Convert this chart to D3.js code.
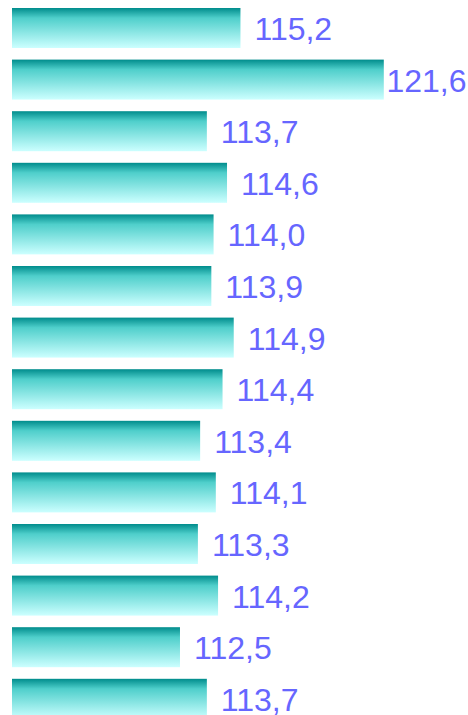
<!DOCTYPE html>
<html>
<head>
<meta charset="utf-8">
<script src="https://cdn.jsdelivr.net/npm/d3@7"></script>
<style>
  html, body { margin: 0; padding: 0; background: #fff; }
  svg { display: block; }
  .label { font-family: "Liberation Sans", Arial, sans-serif; font-size: 32px; fill: #6666ff; }
</style>
</head>
<body>
<svg width="468" height="715"></svg>
<script>
  const categories = d3.range(1, 15).map(String);
  const values = [115.2, 121.6, 113.7, 114.6, 114.0, 113.9, 114.9, 114.4, 113.4, 114.1, 113.3, 114.2, 112.5, 113.7];

  const svg = d3.select('svg');
  const width = +svg.attr('width');

  const defs = svg.append('defs');
  const grad = defs.append('linearGradient')
    .attr('id', 'barGrad')
    .attr('x1', 0).attr('y1', 0)
    .attr('x2', 0).attr('y2', 1);
  grad.append('stop').attr('offset', '0%').attr('stop-color', '#008c8c');
  grad.append('stop').attr('offset', '25%').attr('stop-color', '#4fcfcb');
  grad.append('stop').attr('offset', '100%').attr('stop-color', '#ccffff');

  const xScale = d3.scaleLinear()
    .domain([105, 121.6])
    .range([12, 383.8]);

  const yScale = d3.scaleBand()
    .domain(categories)
    .range([8, 718.8])
    .paddingInner(0.225)
    .paddingOuter(0);

  const data = categories.map((c, i) => ({ cat: c, value: values[i] }));

  svg.selectAll('rect').data(data)
    .enter().append('rect')
    .attr('x', xScale(105))
    .attr('y', d => yScale(d.cat))
    .attr('width', d => xScale(d.value) - xScale(105))
    .attr('height', yScale.bandwidth())
    .attr('fill', 'url(#barGrad)');

  const fmt = v => v.toFixed(1).replace('.', ',');

  svg.selectAll('.label').data(data)
    .enter().append('text')
    .attr('class', 'label')
    .attr('y', d => yScale(d.cat) + yScale.bandwidth() / 2 + 12)
    .text(d => fmt(d.value))
    .attr('x', function (d) {
      const w = this.getComputedTextLength();
      return Math.min(xScale(d.value) + 14, width - 1.5 - w);
    });
</script>
</body>
</html>
